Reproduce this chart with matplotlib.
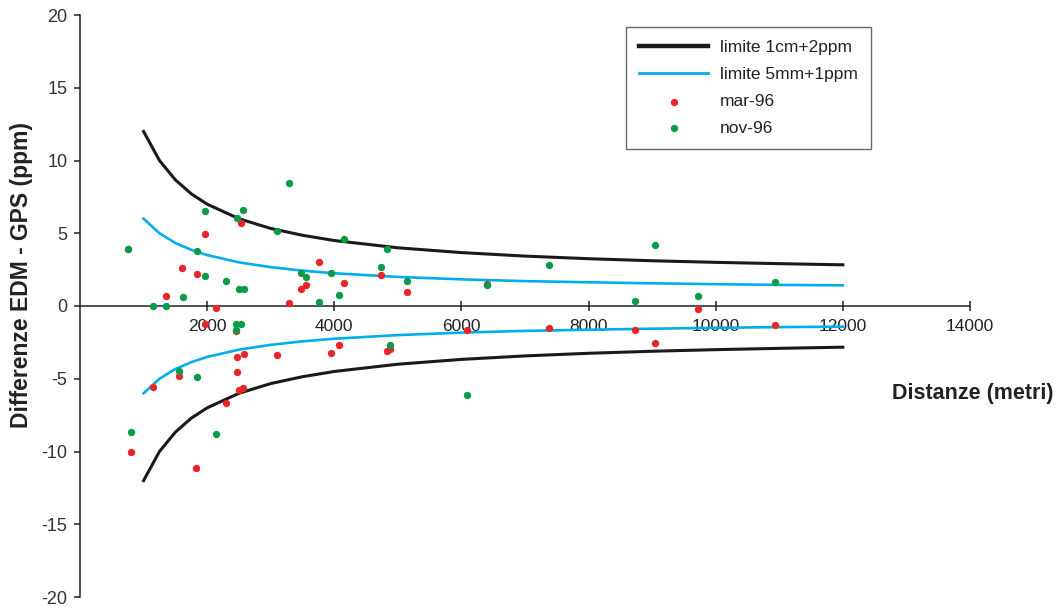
import matplotlib
matplotlib.use("Agg")
import matplotlib.pyplot as plt
import numpy as np

plt.rcParams['font.family'] = ['Liberation Sans', 'DejaVu Sans']

# tolerance limits (ppm) vs distance (m); lower limits are the mirrored values
dist_lim = [1000, 1250, 1500, 1750, 2000, 2500, 3000, 3500, 4000, 5000,
            6000, 7000, 8000, 9000, 10000, 11000, 12000]
lim_1cm_2ppm = [12.0, 10.0, 8.67, 7.71, 7.0, 6.0, 5.33, 4.86, 4.5, 4.0,
                3.67, 3.43, 3.25, 3.11, 3.0, 2.91, 2.83]
lim_5mm_1ppm = [6.0, 5.0, 4.33, 3.86, 3.5, 3.0, 2.67, 2.43, 2.25, 2.0,
                1.83, 1.71, 1.63, 1.56, 1.5, 1.45, 1.42]

# march 1996 campaign
mar_dist = [749, 2534, 1969, 1607, 1843, 1351, 2141, 3288, 3760, 4153,
            3477, 3550, 4734, 5142, 6399, 1969, 2461, 2477, 2577, 3100,
            3954, 4080, 1560, 1142, 2471, 2503, 2566, 2294, 796, 1827,
            4828, 4871, 6085, 9714, 7373, 8730, 9049, 10939]
mar_diff = [3.9, 5.68, 4.92, 2.6, 2.21, 0.68, -0.14, 0.18, 3.01, 1.57,
            1.16, 1.46, 2.14, 0.96, 1.5, -1.23, -1.73, -3.49, -3.33, -3.4,
            -3.21, -2.67, -4.83, -5.59, -4.54, -5.77, -5.61, -6.66, -10.01, -11.15,
            -3.1, -2.94, -1.62, -0.21, -1.5, -1.66, -2.55, -1.28]

# november 1996 campaign
nov_dist = [749, 3288, 1969, 2566, 2477, 3100, 4153, 1843, 1969, 2294,
            2503, 2577, 1613, 1142, 1351, 3477, 3550, 3954, 3760, 4074,
            4833, 4734, 5142, 6399, 2461, 2540, 2461, 1560, 1833, 796,
            2141, 4871, 6085, 7373, 9049, 8730, 9714, 10939]
nov_diff = [3.92, 8.48, 6.54, 6.59, 6.02, 5.13, 4.58, 3.76, 2.03, 1.71,
            1.16, 1.16, 0.59, 0.0, 0.0, 2.28, 1.96, 2.26, 0.25, 0.73,
            3.9, 2.71, 1.71, 1.42, -1.21, -1.21, -1.66, -4.47, -4.9, -8.69,
            -8.82, -2.69, -6.09, 2.83, 4.17, 0.34, 0.71, 1.64]

x_ticks = [2000, 4000, 6000, 8000, 10000, 12000, 14000]
y_ticks = [-20, -15, -10, -5, 0, 5, 10, 15, 20]

fig = plt.figure(figsize=(10.59, 6.08), dpi=100)
W, H = 1059, 608
ax = fig.add_axes([80 / W, 1 - 597 / H, 890 / W, 582 / H])

black = '#1a1a1a'
blue = '#00aeef'
red = '#e8262a'
green = '#0a9a48'
axis_col = '#222222'

l1, = ax.plot(dist_lim, lim_1cm_2ppm, color=black, lw=2.2, zorder=3,
              label='limite 1cm+2ppm')
ax.plot(dist_lim, -np.array(lim_1cm_2ppm), color=black, lw=2.2, zorder=3)
l2, = ax.plot(dist_lim, lim_5mm_1ppm, color=blue, lw=1.9, zorder=3,
              label='limite 5mm+1ppm')
ax.plot(dist_lim, -np.array(lim_5mm_1ppm), color=blue, lw=1.9, zorder=3)

s1 = ax.scatter(mar_dist, mar_diff, s=28, color=red, lw=0, zorder=4, label='mar-96')
s2 = ax.scatter(nov_dist, nov_diff, s=28, color=green, lw=0, zorder=5, label='nov-96')

ax.set_xlim(0, 14000)
ax.set_ylim(-20, 20)
ax.spines['left'].set_position(('data', 0))
ax.spines['bottom'].set_position(('data', 0))
ax.spines['top'].set_visible(False)
ax.spines['right'].set_visible(False)
for sp in ('left', 'bottom'):
    ax.spines[sp].set_linewidth(1.1)
    ax.spines[sp].set_color(axis_col)
ax.patch.set_visible(False)

ax.set_xticks(x_ticks)
ax.set_yticks(y_ticks)
ax.set_xticklabels([str(v) for v in x_ticks])
ax.set_yticklabels([str(v) for v in y_ticks])
ax.tick_params(axis='x', direction='inout', length=7, width=1.1,
               color=axis_col, pad=6, labelsize=12.5, labelcolor=axis_col)
ax.tick_params(axis='y', direction='out', length=4, width=1.1,
               color=axis_col, pad=5, labelsize=13, labelcolor='#333333')

fig.text(22 / W, 1 - 275 / H, 'Differenze EDM - GPS (ppm)', rotation=90,
         ha='center', va='center', fontsize=16.5, fontweight='bold', color=axis_col)
fig.text(1054 / W, 1 - 393 / H, 'Distanze (metri)', ha='right', va='center',
         fontsize=15.5, fontweight='bold', color=axis_col)

leg = ax.legend(handles=[l1, l2, s1, s2], loc='upper left',
                bbox_to_anchor=(626 / W, 1 - 27 / H), bbox_transform=fig.transFigure,
                borderaxespad=0, fontsize=12.5, handlelength=4.0, handletextpad=0.65,
                labelspacing=0.68, borderpad=0.75, frameon=True, fancybox=False,
                markerscale=1.0)
leg.get_frame().set_edgecolor('#444444')
leg.get_frame().set_linewidth(1.0)
leg.legend_handles[0].set_linewidth(3.2)
leg.legend_handles[1].set_linewidth(2.0)
for t in leg.get_texts():
    t.set_color(axis_col)

fig.savefig('out.png', dpi=100)
